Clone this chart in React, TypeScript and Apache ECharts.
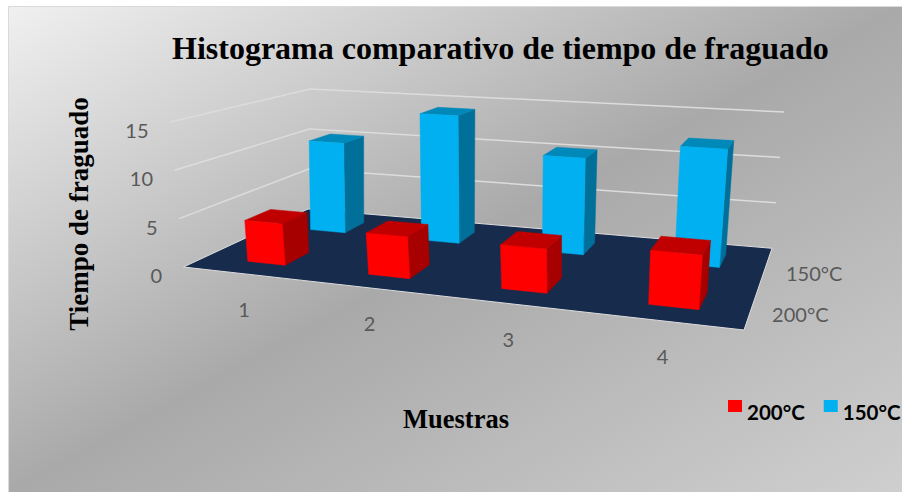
import React, { useEffect, useRef } from "react";
import * as echarts from "echarts";

const title = "Histograma comparativo de tiempo de fraguado";
const samples = ["1", "2", "3", "4"];
const temperatures = ["200°C", "150°C"];
const zTicks = [0, 5, 10, 15];
const values200 = [4.3, 4.2, 4.3, 5.1];
const values150 = [10.3, 14.2, 10.4, 12.3];

type Pt = [number, number];

// Perspective frame of the 3D box: floor corners and the corners at the top of the value axis,
// ordered front-left, front-right, back-right, back-left.
const FLOOR: Pt[] = [[183.5, 267], [744, 330], [772, 248.3], [308, 209]];
const CEILING: Pt[] = [[170, 122], [759, 162.4], [784, 112], [310, 89]];

function quadMap(q: Pt[]) {
  const [p0, p1, p2, p3] = q;
  const dx1 = p1[0] - p2[0], dx2 = p3[0] - p2[0], sx = p0[0] - p1[0] + p2[0] - p3[0];
  const dy1 = p1[1] - p2[1], dy2 = p3[1] - p2[1], sy = p0[1] - p1[1] + p2[1] - p3[1];
  const det = dx1 * dy2 - dx2 * dy1;
  const g = (sx * dy2 - dx2 * sy) / det;
  const h = (dx1 * sy - sx * dy1) / det;
  const a = p1[0] - p0[0] + g * p1[0], b = p3[0] - p0[0] + h * p3[0];
  const d = p1[1] - p0[1] + g * p1[1], e = p3[1] - p0[1] + h * p3[1];
  return (s: number, t: number): Pt => {
    const w = g * s + h * t + 1;
    return [(a * s + b * t + p0[0]) / w, (d * s + e * t + p0[1]) / w];
  };
}
const floorAt = quadMap(FLOOR);
const ceilingAt = quadMap(CEILING);

// s: share along the samples, t: share along the temperatures, v: share of the value axis
function project(s: number, t: number, v: number): Pt {
  const f = floorAt(s, t), c = ceilingAt(s, t);
  return [f[0] + (c[0] - f[0]) * v, f[1] + (c[1] - f[1]) * v];
}

// Reads sample position and value through the chart's axes, then places them in the box.
function axisProjector(api: any) {
  const o = api.coord([0, 0]);
  const e = api.coord([samples.length, zTicks[zTicks.length - 1]]);
  return (x: number, row: number, z: number): Pt => {
    const p = api.coord([x, z]);
    return project((p[0] - o[0]) / (e[0] - o[0]), row / temperatures.length, (p[1] - o[1]) / (e[1] - o[1]));
  };
}

const poly = (points: Pt[], fill: string) => ({
  type: "polygon",
  shape: { points },
  style: { fill, stroke: fill, lineWidth: 0.5 },
});

function barRenderer(rowStart: number, rowEnd: number, front: string, side: string, top: string) {
  return (_: any, api: any) => {
    const at = axisProjector(api);
    const i = api.value(0) as number;
    const v = api.value(1) as number;
    const x0 = i + 0.372, x1 = i + 0.692;
    return {
      type: "group",
      children: [
        poly([at(x1, rowStart, 0), at(x1, rowEnd, 0), at(x1, rowEnd, v), at(x1, rowStart, v)], side),
        poly([at(x0, rowStart, v), at(x1, rowStart, v), at(x1, rowEnd, v), at(x0, rowEnd, v)], top),
        poly([at(x0, rowStart, 0), at(x1, rowStart, 0), at(x1, rowStart, v), at(x0, rowStart, v)], front),
      ],
    };
  };
}

const tickFont = { fontFamily: "Lato", fontSize: 20, fill: "#595959" };

function renderFrame(_: any, api: any) {
  const at = axisProjector(api);
  const n = samples.length;
  const rows = temperatures.length;
  const children: any[] = [];
  children.push({
    type: "polygon",
    shape: { points: [at(0, 0, 0), at(n, 0, 0), at(n, rows, 0), at(0, rows, 0)] },
    style: { fill: "#172B4D", stroke: "#DDDDDD", lineWidth: 1 },
  });
  zTicks.forEach((z) => {
    if (z > 0) {
      children.push({
        type: "polyline",
        shape: { points: [at(0, 0, z), at(0, rows, z), at(n, rows, z)] },
        style: { fill: "none", stroke: "#DCDCDC", lineWidth: 1.5 },
      });
    }
    const p = at(0, 0, z);
    children.push({
      type: "text",
      x: p[0] - 21.5,
      y: p[1] + 8,
      style: { ...tickFont, text: String(z), align: "right", verticalAlign: "middle" },
    });
  });
  samples.forEach((label, i) => {
    const p = at(i + 0.5, 0, 0);
    children.push({
      type: "text",
      x: p[0] + 2,
      y: p[1] + 35.5,
      style: { ...tickFont, text: label, align: "center", verticalAlign: "middle" },
    });
  });
  temperatures.forEach((label, r) => {
    const p = at(n, r + 0.5, 0);
    children.push({
      type: "text",
      x: p[0] + 48,
      y: p[1] + 8,
      style: { ...tickFont, text: label, align: "center", verticalAlign: "middle" },
    });
  });
  return { type: "group", children };
}

export default function App() {
  const ref = useRef<HTMLDivElement>(null);
  useEffect(() => {
    const chart = echarts.init(ref.current!, undefined, { renderer: "svg" });
    const serif = "'Liberation Serif', 'Times New Roman', serif";
    chart.setOption({
      animation: false,
      title: {
        text: title,
        left: 167,
        top: 27,
        textStyle: { fontFamily: serif, fontWeight: "bold", fontSize: 32, color: "#000" },
      },
      legend: {
        data: temperatures,
        orient: "horizontal",
        left: 723,
        top: 395,
        width: 190,
        // The swatch sits in the upper half of the symbol box, so the text lines up below its centre.
        icon: "path://M0 0H14V12H0Z M0 24H0.01V24.01H0Z",
        itemWidth: 14,
        itemHeight: 24,
        itemGap: 19,
        itemStyle: { borderWidth: 0 },
        selectedMode: false,
        textStyle: { fontFamily: "Lato", fontWeight: "bold", fontSize: 20.5, color: "#000" },
      },
      graphic: [
        {
          type: "rect",
          z: -10,
          shape: { x: 8.5, y: 6.5, width: 894, height: 486 },
          style: {
            stroke: "#DADADA",
            lineWidth: 1,
            fill: new echarts.graphic.LinearGradient(0, 0, 1, 1, [
              { offset: 0, color: "#F0F0F0" },
              { offset: 0.5, color: "#A9A9A9" },
              { offset: 1, color: "#CFCFCF" },
            ]),
          },
        },
      ],
      grid: { left: 183, width: 546, top: 122, height: 184 },
      xAxis: {
        type: "value",
        min: 0,
        max: samples.length,
        name: "Muestras",
        nameLocation: "middle",
        nameGap: 99,
        nameTextStyle: { fontFamily: serif, fontWeight: "bold", fontSize: 26.5, color: "#000" },
        axisLine: { show: false },
        axisTick: { show: false },
        axisLabel: { show: false },
        splitLine: { show: false },
      },
      yAxis: {
        type: "value",
        min: 0,
        max: 15,
        interval: 5,
        name: "Tiempo de fraguado",
        nameLocation: "middle",
        nameGap: 91,
        nameTextStyle: { fontFamily: serif, fontWeight: "bold", fontSize: 27, color: "#000" },
        axisLine: { show: false },
        axisTick: { show: false },
        axisLabel: { show: false },
        splitLine: { show: false },
      },
      series: [
        { type: "custom", name: "frame", z: 1, silent: true, renderItem: renderFrame, data: [[0, 0]], clip: false },
        {
          type: "custom",
          name: temperatures[1],
          z: 2,
          clip: false,
          itemStyle: { color: "#00B0F0" },
          renderItem: barRenderer(1.33, 1.7, "#00B0F0", "#00709A", "#0088B8"),
          data: values150.map((v, i) => [i, v]),
        },
        {
          type: "custom",
          name: temperatures[0],
          z: 3,
          clip: false,
          itemStyle: { color: "#FF0000" },
          renderItem: barRenderer(0.3, 0.68, "#FF0000", "#A60000", "#C00000"),
          data: values200.map((v, i) => [i, v]),
        },
      ],
    });
    return () => chart.dispose();
  }, []);
  return <div ref={ref} style={{ position: "absolute", left: 0, top: 0, width: 902, height: 492 }} />;
}
